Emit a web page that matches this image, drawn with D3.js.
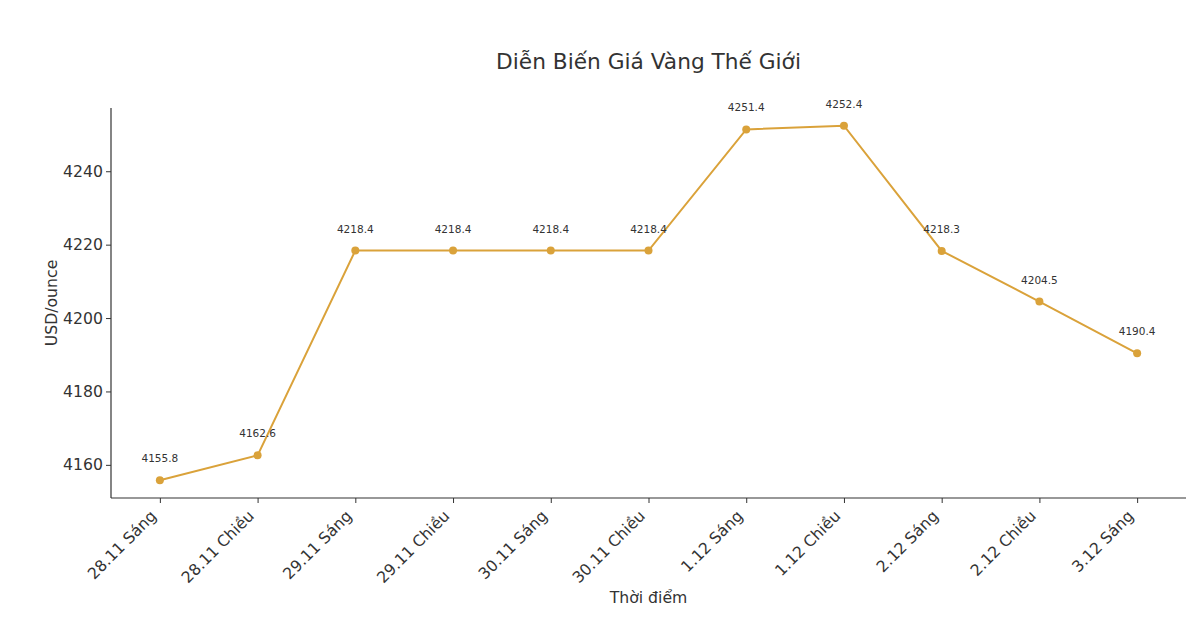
<!DOCTYPE html>
<html>
<head>
<meta charset="utf-8">
<script src="https://cdn.jsdelivr.net/npm/d3@7.9.0/dist/d3.min.js"></script>
<style>
  body { margin: 0; background: #fff; }
  svg { display: block; font-family: "DejaVu Sans", sans-serif; }
</style>
</head>
<body>
<svg id="chart" width="1202" height="632"></svg>
<script>
const times = ['28.11 Sáng', '28.11 Chiều', '29.11 Sáng', '29.11 Chiều', '30.11 Sáng',
  '30.11 Chiều', '1.12 Sáng', '1.12 Chiều', '2.12 Sáng', '2.12 Chiều', '3.12 Sáng'];
const prices = [4155.8, 4162.6, 4218.4, 4218.4, 4218.4, 4218.4, 4251.4, 4252.4, 4218.3, 4204.5, 4190.4];
const yTicks = [4160, 4180, 4200, 4220, 4240];

const gold = '#DAA23A';
const ink = '#333';
const svg = d3.select('#chart');
const plot = { left: 111, right: 1186, top: 108, bottom: 498 };

// matplotlib style: 5% margin on both axes
const n = times.length;
const x = d3.scaleLinear().domain([-0.5, n - 0.5]).range([plot.left, plot.right]);
const lo = d3.min(prices), hi = d3.max(prices), pad = (hi - lo) * 0.05;
const y = d3.scaleLinear().domain([lo - pad, hi + pad]).range([plot.bottom, plot.top]);

const xAxis = svg.append('g')
  .attr('transform', `translate(0,${plot.bottom})`)
  .call(d3.axisBottom(x).tickValues(d3.range(n)).tickFormat((i) => times[i]).tickSize(5));
xAxis.selectAll('text')
  .attr('text-anchor', 'end')
  .attr('x', 0).attr('y', 0).attr('dy', 0)
  .attr('transform', 'translate(-3,19) rotate(-45)');

const yAxis = svg.append('g')
  .attr('transform', `translate(${plot.left},0)`)
  .call(d3.axisLeft(y).tickValues(yTicks).tickFormat(d3.format('d')).tickSize(5).tickPadding(3));

[xAxis, yAxis].forEach((g) => {
  g.attr('font-family', null).attr('font-size', null);
  g.selectAll('text').style('font-size', '15.7px').attr('fill', ink);
  g.select('.domain').attr('stroke', ink).attr('stroke-width', 1.2);
  g.selectAll('.tick line').attr('stroke', ink);
});
// axes end at the plot edges without outer ticks
xAxis.select('.domain').attr('d', `M${plot.left},0H${plot.right}`);
yAxis.select('.domain').attr('d', `M0,${plot.top}V${plot.bottom}`);

const line = d3.line().x((d, i) => x(i)).y((d) => y(d));
svg.append('path')
  .datum(prices)
  .attr('d', line)
  .attr('fill', 'none')
  .attr('stroke', gold)
  .attr('stroke-width', 2);

svg.append('g').selectAll('circle')
  .data(prices)
  .join('circle')
  .attr('cx', (d, i) => x(i))
  .attr('cy', (d) => y(d))
  .attr('r', 4)
  .attr('fill', gold);

svg.append('g').selectAll('text')
  .data(prices)
  .join('text')
  .attr('x', (d, i) => x(i))
  .attr('y', (d) => y(d) - 18)
  .attr('text-anchor', 'middle')
  .style('font-size', '10.5px')
  .attr('fill', ink)
  .text((d) => d.toFixed(1));

svg.append('text')
  .attr('x', (plot.left + plot.right) / 2).attr('y', 69)
  .attr('text-anchor', 'middle')
  .style('font-size', '21.7px').attr('fill', ink)
  .text('Diễn Biến Giá Vàng Thế Giới');

svg.append('text')
  .attr('x', (plot.left + plot.right) / 2).attr('y', 603)
  .attr('text-anchor', 'middle')
  .style('font-size', '15.7px').attr('fill', ink)
  .text('Thời điểm');

svg.append('text')
  .attr('transform', `translate(57,${(plot.top + plot.bottom) / 2}) rotate(-90)`)
  .attr('text-anchor', 'middle')
  .style('font-size', '15.7px').attr('fill', ink)
  .text('USD/ounce');
</script>
</body>
</html>
